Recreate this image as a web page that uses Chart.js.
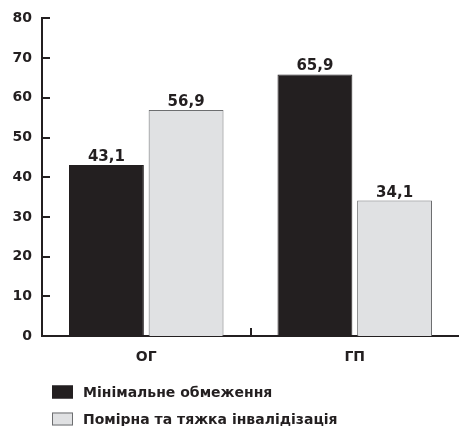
<!DOCTYPE html>
<html>
<head>
<meta charset="utf-8">
<script src="https://cdn.jsdelivr.net/npm/chart.js@4"></script>
<style>
  html, body { margin: 0; padding: 0; background: #fff; }
  #wrap { width: 459px; height: 426px; }
</style>
</head>
<body>
<div id="wrap"><canvas id="grafico" width="459" height="426"></canvas></div>
<script>
const grupos = ["ОГ", "ГП"];
const nomesSeries = ["Мінімальне обмеження", "Помірна та тяжка інвалідізація"];
const minimal = [43.1, 65.9];
const tyazhka = [56.9, 34.1];
const yTicks = [0, 10, 20, 30, 40, 50, 60, 70, 80];

const escuro = "#231f20";
const cinza = "#e0e1e3";
const fonte = "'DejaVu Sans', Arial, sans-serif";

// ticks pointing into the plot + the divider tick between the two groups
const marcasInternas = {
    id: "marcasInternas",
    afterDraw(chart) {
        const ctx = chart.ctx;
        const y = chart.scales.y;
        const x = chart.scales.x;
        const area = chart.chartArea;
        ctx.save();
        ctx.strokeStyle = escuro;
        ctx.lineWidth = 2;
        ctx.beginPath();
        y.ticks.forEach(t => {
            if (t.value === 0) return;
            const py = Math.round(y.getPixelForValue(t.value));
            ctx.moveTo(area.left, py);
            ctx.lineTo(area.left + 8, py);
        });
        const meio = Math.round((x.getPixelForTick(0) + x.getPixelForTick(1)) / 2);
        ctx.moveTo(meio, area.bottom);
        ctx.lineTo(meio, area.bottom - 8);
        ctx.stroke();
        ctx.restore();
    }
};

// value labels above each bar, with comma decimals
const rotulos = {
    id: "rotulos",
    afterDatasetsDraw(chart) {
        const ctx = chart.ctx;
        ctx.save();
        ctx.font = "bold 15px " + fonte;
        ctx.fillStyle = escuro;
        ctx.textAlign = "center";
        ctx.textBaseline = "alphabetic";
        chart.data.datasets.forEach((ds, i) => {
            chart.getDatasetMeta(i).data.forEach((bar, j) => {
                const txt = ds.data[j].toFixed(1).replace(".", ",");
                ctx.fillText(txt, bar.x, bar.y - 4);
            });
        });
        ctx.restore();
    }
};

// stacked legend under the x axis
const legenda = {
    id: "legenda",
    afterDraw(chart) {
        const ctx = chart.ctx;
        const topo = chart.scales.x.bottom;
        ctx.save();
        ctx.font = "bold 14px " + fonte;
        ctx.textBaseline = "middle";
        chart.data.datasets.forEach((ds, i) => {
            const cy = topo + 18 + i * 27;
            ctx.fillStyle = ds.backgroundColor;
            ctx.fillRect(52, cy - 6.5, 21, 13);
            ctx.strokeStyle = ds.borderColor;
            ctx.lineWidth = 1;
            ctx.strokeRect(52.5, cy - 6, 20, 12);
            ctx.fillStyle = escuro;
            ctx.fillText(ds.label, 83, cy + 1);
        });
        ctx.restore();
    }
};

new Chart(document.getElementById("grafico").getContext("2d"), {
    type: "bar",
    data: {
        labels: grupos,
        datasets: [
            {
                label: nomesSeries[0],
                data: minimal,
                backgroundColor: escuro,
                borderColor: escuro,
                borderWidth: 1,
            },
            {
                label: nomesSeries[1],
                data: tyazhka,
                backgroundColor: cinza,
                borderColor: "#6d6e70",
                borderWidth: 1,
            },
        ],
    },
    options: {
        responsive: false,
        animation: false,
        categoryPercentage: 0.764,
        barPercentage: 0.94,
        layout: { padding: { top: 8, right: -7, bottom: 52, left: 0 } },
        plugins: {
            legend: { display: false },
            tooltip: { enabled: false },
        },
        scales: {
            x: {
                grid: { display: false, drawTicks: false },
                border: { color: escuro, width: 2 },
                ticks: {
                    color: escuro,
                    font: { family: fonte, size: 14, weight: "bold" },
                    padding: 13,
                },
                afterFit(scale) { scale.height = 38; },
            },
            y: {
                min: 0,
                max: 80,
                grid: { display: false, drawTicks: false },
                border: { color: escuro, width: 2 },
                afterBuildTicks(scale) {
                    scale.ticks = yTicks.map(v => ({ value: v }));
                },
                ticks: {
                    color: escuro,
                    font: { family: fonte, size: 14, weight: "bold" },
                    padding: 10,
                },
                afterFit(scale) { scale.width = 42; },
            },
        },
    },
    plugins: [marcasInternas, rotulos, legenda],
});
</script>
</body>
</html>
